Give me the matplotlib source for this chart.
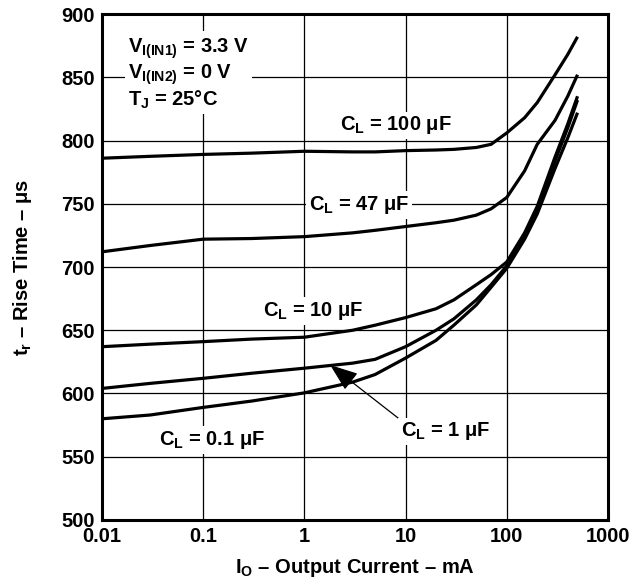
import numpy as np
import matplotlib
matplotlib.use("Agg")
import matplotlib.pyplot as plt

plt.rcParams['font.family'] = ['Liberation Sans', 'DejaVu Sans']
plt.rcParams['font.weight'] = 'bold'
plt.rcParams['axes.labelweight'] = 'bold'
plt.rcParams['mathtext.fontset'] = 'custom'
plt.rcParams['mathtext.rm'] = 'Liberation Sans:bold'
plt.rcParams['mathtext.it'] = 'Liberation Sans:bold'
plt.rcParams['mathtext.bf'] = 'Liberation Sans:bold'

# output current (mA) at which each curve was read
io_ma = [0.01, 0.03, 0.1, 0.3, 1, 3, 5, 10, 20, 30, 50, 70, 100, 150, 200, 300, 400, 500]

# rise time (us) per load capacitance
tr_100uf = [786, 787.5, 789, 790, 791.5, 791, 791, 792, 792.5, 793, 794.5, 797, 806, 818, 830, 852, 868, 882]
tr_47uf = [712, 717, 722, 722.5, 724, 727, 729, 732, 735, 737, 741, 746, 755, 776, 797, 816, 835, 852]
tr_10uf = [637, 639, 641, 643, 644.5, 650, 654, 660, 667, 674, 686, 694, 704, 727, 748, 787, 813, 835]
tr_1uf = [604, 608, 612, 616, 620, 624, 627, 637, 650, 659, 674, 686, 701, 725, 746, 784, 810, 832]
tr_01uf = [580, 583, 589, 594, 600.5, 609, 615, 628, 642, 654, 670, 684, 699, 722, 742, 778, 802, 822]

curves = [tr_100uf, tr_47uf, tr_10uf, tr_1uf, tr_01uf]

# curve labels: text, x (mA), y (us)
labels = [r'$C_L$ = 100 μF', r'$C_L$ = 47 μF', r'$C_L$ = 10 μF', r'$C_L$ = 0.1 μF']
label_x = [8.0, 3.5, 1.22, 0.122]
label_y = [812, 749, 665, 563]

FS = 14.5

fig = plt.figure(figsize=(6.33, 5.84), dpi=100)
ax = fig.add_axes([0.161, 0.1096, 0.7995, 0.8664])

for tr in curves:
    ax.plot(io_ma, tr, color='black', lw=2.3, solid_capstyle='butt', zorder=3)

ax.set_xscale('log')
ax.set_xlim(0.01, 1000)
ax.set_ylim(500, 900)
ax.set_xticks([0.01, 0.1, 1, 10, 100, 1000])
ax.set_xticklabels(['0.01', '0.1', '1', '10', '100', '1000'])
ax.set_yticks(np.arange(500, 901, 50))
ax.minorticks_off()
ax.tick_params(length=0, labelsize=FS, pad=5)
ax.grid(True, color='black', lw=0.9)
for s in ax.spines.values():
    s.set_linewidth(2.2)

box = dict(facecolor='white', edgecolor='none', pad=2)
for t, x, y in zip(labels, label_x, label_y):
    ax.text(x, y, t, ha='center', va='center', fontsize=FS, bbox=box, zorder=4)

# arrow for the 1 uF curve
ax.annotate(r'$C_L$ = 1 μF', xy=(1.8, 622.5), xytext=(25, 570),
            ha='center', va='center', fontsize=FS, bbox=box, zorder=4,
            arrowprops=dict(arrowstyle='-|>,head_length=1.2,head_width=0.45',
                            color='black', lw=0.9, shrinkA=0, shrinkB=0,
                            relpos=(0.0, 1.0)))

ax.text(0.051, 0.955, '$V_{I(IN1)}$ = 3.3 V\n$V_{I(IN2)}$ = 0 V\n$T_J$ = 25°C',
        transform=ax.transAxes, ha='left', va='top', fontsize=FS,
        linespacing=1.1, bbox=box, zorder=4)

ax.set_xlabel('$I_O$ – Output Current – mA', fontsize=FS, labelpad=8)
ax.set_ylabel('$t_r$ – Rise Time – μs', fontsize=FS, labelpad=20)

fig.savefig('out.png', dpi=100)
